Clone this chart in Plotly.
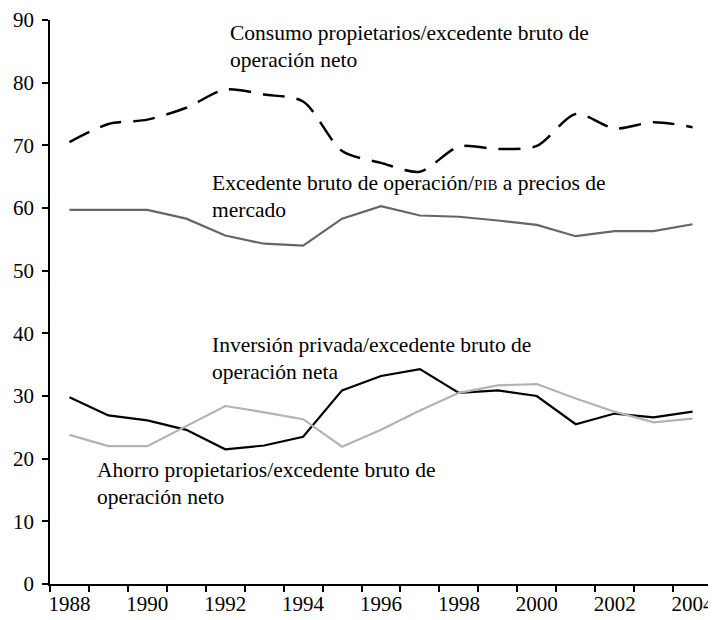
import plotly.graph_objects as go

years = list(range(1988, 2005))
consumo = [70.5, 73.4, 74.1, 76.0, 78.9, 78.1, 77.0, 69.1, 67.2, 65.8, 69.8, 69.4, 69.9, 75.0, 72.7, 73.7, 72.9]
excedente = [59.7, 59.7, 59.7, 58.3, 55.6, 54.3, 54.0, 58.3, 60.3, 58.8, 58.6, 58.0, 57.3, 55.5, 56.3, 56.3, 57.4]
inversion = [29.8, 26.9, 26.1, 24.6, 21.5, 22.1, 23.5, 30.9, 33.2, 34.3, 30.5, 30.9, 30.0, 25.5, 27.2, 26.6, 27.5]
ahorro = [23.8, 22.0, 22.0, 25.2, 28.4, 27.4, 26.3, 21.9, 24.6, 27.7, 30.5, 31.7, 31.9, 29.6, 27.5, 25.8, 26.4]
x_labels = [str(y) for y in range(1988, 2005, 2)]
y_ticks = list(range(0, 91, 10))

FONT = "'Liberation Serif', 'Times New Roman', Times, serif"
FS = 21

fig = go.Figure()
fig.add_trace(go.Scatter(x=years, y=consumo, mode="lines",
                         line=dict(color="#000000", width=2.5, dash="22px,12px", shape="spline", smoothing=0.8),
                         name="Consumo propietarios/excedente bruto de operación neto"))
fig.add_trace(go.Scatter(x=years, y=excedente, mode="lines",
                         line=dict(color="#666666", width=2.2),
                         name="Excedente bruto de operación/PIB a precios de mercado"))
fig.add_trace(go.Scatter(x=years, y=inversion, mode="lines",
                         line=dict(color="#000000", width=2.2),
                         name="Inversión privada/excedente bruto de operación neta"))
fig.add_trace(go.Scatter(x=years, y=ahorro, mode="lines",
                         line=dict(color="#b3b3b3", width=2.2),
                         name="Ahorro propietarios/excedente bruto de operación neto"))

labels = [
    ("Consumo propietarios/excedente bruto de", 1992.07, 87.9),
    ("operación neto", 1992.07, 83.6),
    ("Excedente bruto de operación/<span style='font-size:15px'>PIB</span> a precios de", 1991.61, 64.0),
    ("mercado", 1991.61, 59.7),
    ("Inversión privada/excedente bruto de", 1991.61, 38.1),
    ("operación neta", 1991.61, 33.8),
    ("Ahorro propietarios/excedente bruto de", 1988.66, 18.2),
    ("operación neto", 1988.66, 13.9),
]
for txt, x, y in labels:
    fig.add_annotation(x=x, y=y, text=txt, showarrow=False, xanchor="left", yanchor="middle",
                       font=dict(family=FONT, size=21.5, color="#000000"))

fig.update_layout(
    width=716, height=620,
    margin=dict(l=42, r=12, t=12, b=44),
    paper_bgcolor="white", plot_bgcolor="white",
    showlegend=False,
    font=dict(family=FONT, size=FS, color="#000000"),
)
fig.update_xaxes(
    range=[1987.5, 2004.5], automargin=False,
    tickmode="array", tickvals=list(range(1988, 2005, 2)), ticktext=x_labels,
    ticks="", showgrid=False, zeroline=False,
    showline=True, linecolor="black", linewidth=1.5,
    minor=dict(tickmode="linear", tick0=1987.5, dtick=1, ticks="outside", ticklen=6,
               tickwidth=1.5, tickcolor="black", showgrid=False),
    tickfont=dict(family=FONT, size=FS),
)
fig.update_yaxes(
    range=[0, 90], automargin=False, tickmode="array", tickvals=y_ticks,
    ticks="outside", ticklen=6, tickwidth=1.5, tickcolor="black",
    ticklabelstandoff=4,
    showgrid=False, zeroline=False,
    showline=True, linecolor="black", linewidth=1.5,
    tickfont=dict(family=FONT, size=FS),
)

fig.write_html("out.html")
